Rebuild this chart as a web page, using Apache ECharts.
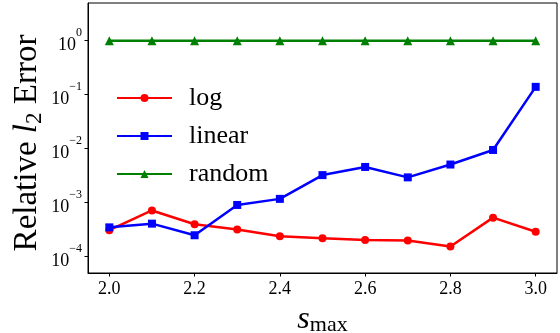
<!DOCTYPE html>
<html><head><meta charset="utf-8">
<script src="https://cdn.jsdelivr.net/npm/echarts@6/dist/echarts.min.js"></script>
<style>html,body{margin:0;padding:0;background:#fff}#c{width:560px;height:333px}</style>
</head><body><div id="c"></div>
<script>
const sValues = [2.0, 2.1, 2.2, 2.3, 2.4, 2.5, 2.6, 2.7, 2.8, 2.9, 3.0];
const logErr = [3.1e-4, 7.2e-4, 4.0e-4, 3.2e-4, 2.4e-4, 2.2e-4, 2.04e-4, 2.0e-4, 1.55e-4, 5.3e-4, 2.9e-4];
const linearErr = [3.5e-4, 4.1e-4, 2.5e-4, 9.1e-4, 1.18e-3, 3.25e-3, 4.6e-3, 2.95e-3, 5.1e-3, 9.5e-3, 0.14];
const randomErr = [1, 1, 1, 1, 1, 1, 1, 1, 1, 1, 1];
const xTicks = [2.0, 2.2, 2.4, 2.6, 2.8, 3.0];
const seriesNames = ['log', 'linear', 'random'];

const FONT = 'Liberation Serif';
const pairs = arr => sValues.map((s, i) => [s, arr[i]]);
const chart = echarts.init(document.getElementById('c'), null, {renderer: 'canvas'});
chart.setOption({
  animation: false,
  backgroundColor: '#fff',
  grid: {left: 88, right: 3, top: 3, bottom: 60, containLabel: false, outerBoundsMode: 'none',
    show: true, borderColor: '#000', borderWidth: 1, backgroundColor: 'transparent'},
  legend: {
    orient: 'vertical', left: 111, top: 80, itemWidth: 55, itemHeight: 10, itemGap: 12,
    data: seriesNames,
    textStyle: {fontFamily: FONT, fontSize: 26, color: '#000', lineHeight: 25, padding: [0, 0, 0, 12]}
  },
  xAxis: {
    type: 'value', min: 1.95, max: 3.05,
    splitLine: {show: false},
    axisLine: {show: true, onZero: false, lineStyle: {color: '#000', width: 1}},
    axisTick: {show: true, length: 3.5, customValues: xTicks, lineStyle: {color: '#000'}},
    axisLabel: {customValues: xTicks, fontFamily: FONT, fontSize: 18, color: '#000', margin: 7,
      formatter: v => v.toFixed(1)},
    name: '{i|s}{sub|max}', nameLocation: 'middle', nameGap: 33, nameMoveOverlap: false,
    nameTextStyle: {rich: {
      i: {fontFamily: FONT, fontStyle: 'italic', fontSize: 32, color: '#000', verticalAlign: 'bottom', lineHeight: 30},
      sub: {fontFamily: FONT, fontSize: 22, color: '#000', verticalAlign: 'bottom', lineHeight: 28}
    }}
  },
  yAxis: {
    type: 'log', logBase: 10, min: 5e-5, max: 5,
    splitLine: {show: false}, minorTick: {show: false},
    axisLine: {show: true, lineStyle: {color: '#000', width: 1}},
    axisTick: {show: true, length: 3.5, lineStyle: {color: '#000'}},
    axisLabel: {showMinLabel: false, showMaxLabel: false, margin: 6,
      formatter: v => {
        const e = Math.round(Math.log10(v));
        return '{b|10}{s|' + (e < 0 ? '\u2212' + (-e) : String(e)) + '}';
      },
      rich: {
        b: {fontFamily: FONT, fontSize: 18, color: '#000', verticalAlign: 'bottom', lineHeight: 28},
        s: {fontFamily: FONT, fontSize: 12, color: '#000', verticalAlign: 'top', lineHeight: 28}
      }
    },
    name: '{n|Relative }{i|l}{sub|2}{n| Error}', nameLocation: 'middle', nameGap: 42, nameMoveOverlap: false,
    nameTextStyle: {padding: [0, 10, 0, 0], rich: {
      n: {fontFamily: FONT, fontSize: 33, color: '#000', lineHeight: 38, verticalAlign: 'middle'},
      i: {fontFamily: FONT, fontStyle: 'italic', fontSize: 33, color: '#000', lineHeight: 38, verticalAlign: 'middle'},
      sub: {fontFamily: FONT, fontSize: 23, color: '#000', lineHeight: 38, verticalAlign: 'bottom'}
    }}
  },
  series: [
    {name: 'log', type: 'line', data: pairs(logErr), symbol: 'circle', symbolSize: 8,
      lineStyle: {color: '#ff0000', width: 2.5}, itemStyle: {color: '#ff0000'}},
    {name: 'linear', type: 'line', data: pairs(linearErr), symbol: 'rect', symbolSize: 8,
      lineStyle: {color: '#0000ff', width: 2.5}, itemStyle: {color: '#0000ff'}},
    {name: 'random', type: 'line', data: pairs(randomErr), symbol: 'triangle', symbolSize: 9,
      lineStyle: {color: '#008000', width: 2.5}, itemStyle: {color: '#008000'}}
  ]
});
</script></body></html>
